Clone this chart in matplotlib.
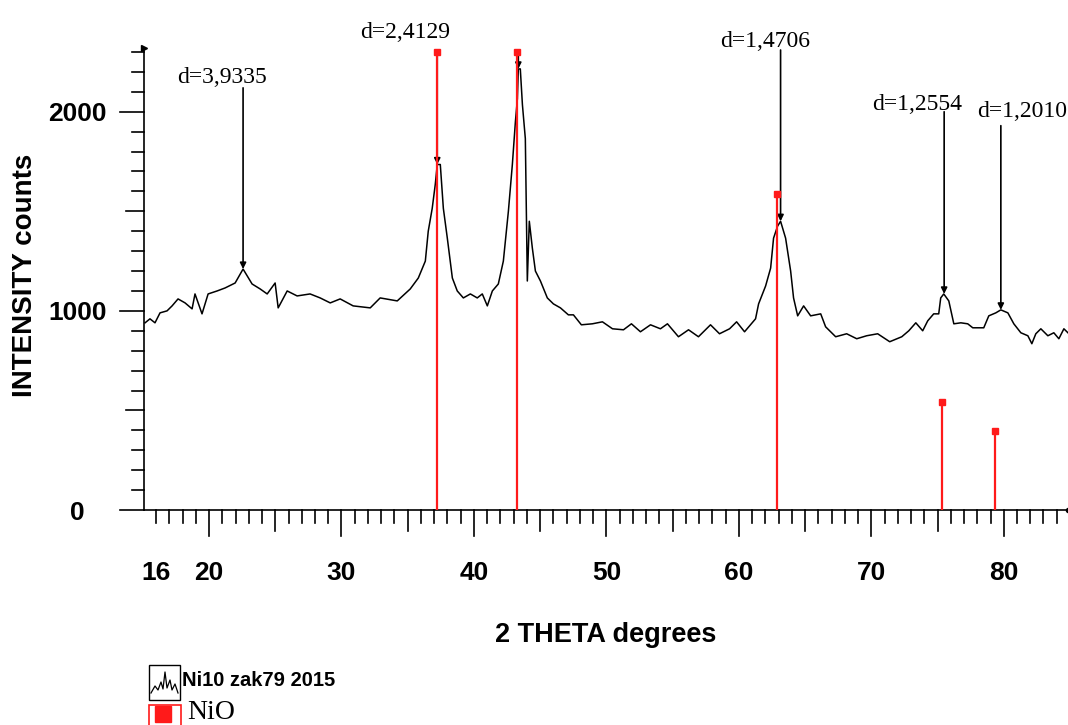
import matplotlib
matplotlib.use("Agg")
import matplotlib.pyplot as plt
from matplotlib.patches import Rectangle
from matplotlib.lines import Line2D

two_theta = [15.17, 15.54, 15.92, 16.30, 16.83, 17.21, 17.66, 18.19, 18.72, 18.94,
             19.47, 19.93, 20.61, 21.21, 21.97, 22.57, 23.25, 23.86, 24.39, 24.99,
             25.22, 25.90, 26.65, 27.63, 28.39, 29.15, 29.90, 30.88, 32.17, 32.92,
             34.21, 35.19, 35.80, 36.33, 36.55, 36.85, 37.08, 37.23, 37.46, 37.69,
             37.99, 38.37, 38.74, 39.20, 39.73, 40.25, 40.63, 41.01, 41.39, 41.84,
             42.22, 42.60, 42.90, 43.13, 43.28, 43.35, 43.50, 43.66, 43.88, 44.03,
             44.18, 44.41, 44.64, 45.02, 45.54, 46.00, 46.53, 47.13, 47.51, 48.11,
             48.94, 49.70, 50.46, 51.29, 51.89, 52.57, 53.33, 54.08, 54.61, 55.44,
             56.20, 56.95, 57.86, 58.54, 59.30, 59.83, 60.43, 61.26, 61.49, 62.02,
             62.40, 62.62, 62.92, 63.15, 63.53, 63.91, 64.13, 64.44, 64.89, 65.42,
             66.18, 66.55, 67.31, 68.14, 68.90, 69.65, 70.48, 71.39, 72.30, 72.83,
             73.36, 73.88, 74.26, 74.71, 75.09, 75.24, 75.47, 75.85, 76.23, 76.76,
             77.28, 77.66, 78.49, 78.87, 79.40, 79.78, 80.31, 80.76, 81.29, 81.82,
             82.12, 82.42, 82.80, 83.33, 83.78, 84.16, 84.54, 84.92]
counts = [940, 960, 940, 990, 1000, 1025, 1060, 1040, 1010, 1085,
          985, 1085, 1100, 1115, 1140, 1210, 1135, 1110, 1085, 1140,
          1015, 1100, 1075, 1085, 1065, 1040, 1060, 1025, 1015, 1065,
          1050, 1110, 1165, 1250, 1400, 1515, 1635, 1735, 1735, 1515,
          1365, 1165, 1100, 1065, 1085, 1065, 1085, 1025, 1100, 1135,
          1250, 1500, 1735, 1950, 2065, 2215, 2215, 2035, 1865, 1150,
          1450, 1315, 1200, 1150, 1065, 1035, 1015, 980, 980, 930,
          935, 945, 910, 905, 935, 895, 930, 910, 935, 870,
          905, 870, 930, 885, 910, 945, 895, 960, 1035, 1125,
          1215, 1365, 1425, 1450, 1365, 1200, 1065, 975, 1025, 975,
          985, 920, 870, 885, 860, 875, 885, 845, 870, 900,
          940, 900, 950, 985, 985, 1065, 1085, 1050, 935, 940,
          935, 915, 915, 975, 990, 1005, 990, 935, 890, 875,
          835, 885, 910, 875, 890, 860, 910, 885]

# NiO reference sticks
nio_pos = [37.24, 43.28, 62.86, 75.33, 79.33]
nio_counts = [2300, 2300, 1585, 540, 395]

# marked peaks
peak_pos = [22.57, 37.23, 43.35, 63.15, 75.50, 79.78]
peak_counts = [1210, 1735, 2215, 1450, 1085, 1005]
peak_line_top = [2120, 2300, 2300, 2310, 2000, 1930]
peak_labels = ["d=3,9335", "d=2,4129", "", "d=1,4706", "d=1,2554", "d=1,2010"]
label_x = [20.98, 34.81, 43.35, 62.02, 73.43, 81.36]
label_y = [2145, 2370, 2370, 2325, 2010, 1975]

sans = ["Liberation Sans"]
serif = ["Liberation Serif"]
red = "#ff1a1a"

fig = plt.figure(figsize=(10.68, 7.25), dpi=100)
ax = fig.add_axes([144 / 1068, 1 - 510 / 725, 924 / 1068, 460 / 725])
ax.set_xlim(15.09, 84.85)
ax.set_ylim(0, 2310)

for s in ["top", "right"]:
    ax.spines[s].set_visible(False)
for s in ["left", "bottom"]:
    ax.spines[s].set_linewidth(1.2)

ax.plot(two_theta, counts, color="black", lw=1.1, zorder=2)

# peak marker lines
for x, y, top in zip(peak_pos, peak_counts, peak_line_top):
    ax.annotate("", xy=(x, y), xytext=(x, top),
                arrowprops=dict(arrowstyle="-|>", color="black", lw=1.2,
                                mutation_scale=9, shrinkA=0, shrinkB=0),
                annotation_clip=False, zorder=3)
for t, x, y in zip(peak_labels, label_x, label_y):
    if t:
        ax.text(x, y, t, ha="center", va="baseline", fontsize=17,
                family=serif, clip_on=False)

# NiO sticks
ax.vlines(nio_pos, 0, nio_counts, color=red, lw=1.6, zorder=4, clip_on=False)
ax.plot(nio_pos, nio_counts, "s", color=red, ms=4.5, zorder=5, clip_on=False)

# ticks, drawn by hand for three lengths
ax.tick_params(length=0)
ax.set_xticks([16, 20, 30, 40, 50, 60, 70, 80])
ax.set_yticks([0, 1000, 2000])
ax.tick_params(axis="x", pad=37)
ax.tick_params(axis="y", pad=48)
for lab in ax.get_xticklabels() + ax.get_yticklabels():
    lab.set_family(sans)
    lab.set_fontweight("bold")
    lab.set_fontsize(19)
for lab in ax.get_yticklabels():
    lab.set_ha("center")

xt = ax.get_xaxis_transform()
for v in range(16, 85):
    L = 26 if v % 10 == 0 else (21 if v % 5 == 0 else 13)
    ax.plot([v, v], [0, -L / 460], color="black", lw=1.2, transform=xt, clip_on=False)
yt = ax.get_yaxis_transform()
for v in range(0, 2400, 100):
    L = 24 if v % 1000 == 0 else (18 if v % 500 == 0 else 12)
    ax.plot([0, -L / 924], [v, v], color="black", lw=1.2, transform=yt, clip_on=False)
ax.plot([0], [1.005], marker=">", ms=5, color="black", transform=ax.transAxes, clip_on=False)
ax.plot([1], [0], marker="o", ms=3, color="black", transform=ax.transAxes, clip_on=False)

ax.set_xlabel("2 THETA degrees", family=sans, fontweight="bold", fontsize=19.5)
ax.xaxis.set_label_coords(0.5, (510 - 635) / 460)
ax.xaxis.label.set_va("center")
ax.set_ylabel("INTENSITY counts", family=sans, fontweight="bold", fontsize=20)
ax.yaxis.set_label_coords((25 - 144) / 924, (510 - 275) / 460)
ax.yaxis.label.set_va("center")

# legend drawn under the plot
W, H = 1068, 725
fig.patches.append(Rectangle((149 / W, 1 - 700 / H), 31 / W, 35 / H, fill=False,
                             ec="black", lw=1.0, transform=fig.transFigure))
icon_x = [151, 155, 158, 161, 163, 165, 167, 170, 172, 175, 178]
icon_y = [693, 686, 690, 682, 689, 672, 688, 680, 690, 684, 693]
fig.lines.append(Line2D([x / W for x in icon_x], [1 - y / H for y in icon_y],
                        color="black", lw=0.9, transform=fig.transFigure))
fig.text(182 / W, 1 - 680 / H, "Ni10 zak79 2015", family=sans, fontweight="bold",
         fontsize=14.5, va="center", ha="left")
fig.patches.append(Rectangle((149 / W, 1 - 737 / H), 32 / W, 32 / H, fill=False,
                             ec=red, lw=1.2, transform=fig.transFigure))
fig.patches.append(Rectangle((155 / W, 1 - 722 / H), 16 / W, 16 / H, fill=True,
                             fc=red, ec=red, transform=fig.transFigure))
fig.text(187 / W, 1 - 719 / H, "NiO", family=serif, fontsize=20, va="baseline", ha="left")

plt.savefig("out.png", dpi=100)
plt.close()
